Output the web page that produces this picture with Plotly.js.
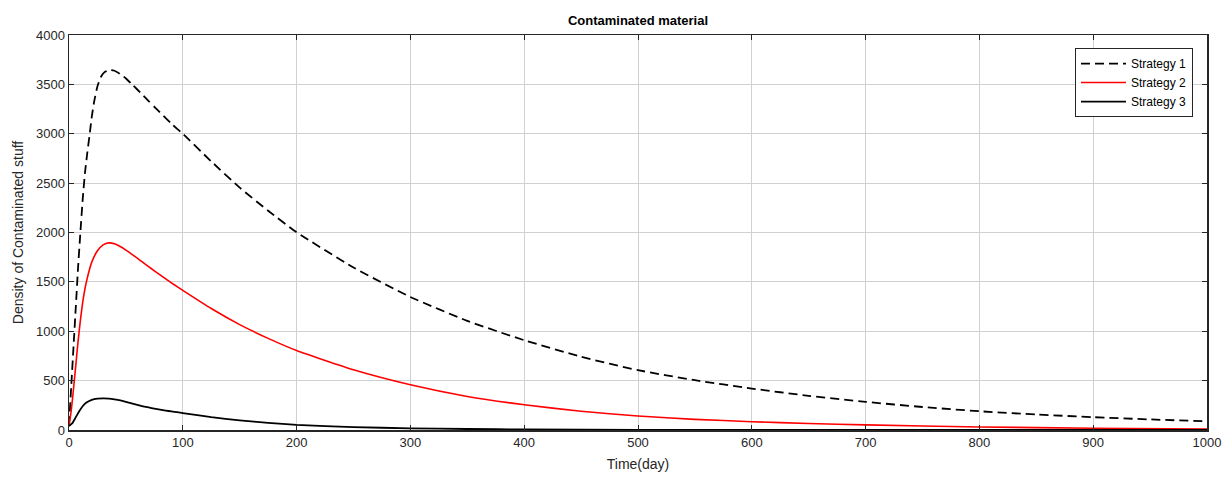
<!DOCTYPE html>
<html>
<head>
<meta charset="utf-8">
<script src="https://cdn.plot.ly/plotly-3.0.1.min.js"></script>
<style>html,body{margin:0;padding:0;background:#fff;}#chart{width:1230px;height:479px;}</style>
</head>
<body>
<div id="chart"></div>
<script>
// Data
const seriesNames = ["Strategy 1", "Strategy 2", "Strategy 3"];

const t1 = [0, 2, 4, 6, 8, 10, 12, 14, 16, 18, 20, 22, 25, 28, 31, 34, 37, 40, 45, 50, 55, 60, 65, 70, 75, 80, 85, 90, 95, 100, 125, 150, 175, 200, 250, 300, 350, 400, 450, 500, 550, 600, 650, 700, 750, 800, 850, 900, 950, 1000];
const s1 = [45, 450, 850, 1250, 1650, 2000, 2330, 2600, 2800, 2980, 3170, 3320, 3480, 3575, 3622, 3641, 3645, 3638, 3605, 3560, 3505, 3448, 3390, 3330, 3272, 3215, 3158, 3102, 3050, 3000, 2720, 2455, 2220, 2003, 1645, 1347, 1105, 909, 742, 606, 504, 420, 346, 285, 233, 190, 157, 130, 107, 88];

const t2 = [0, 2, 4, 6, 8, 10, 12, 14, 16, 18, 20, 25, 30, 35, 40, 45, 50, 55, 60, 65, 70, 75, 80, 85, 90, 95, 100, 125, 150, 175, 200, 250, 300, 350, 400, 450, 500, 550, 600, 650, 700, 800, 900, 1000];
const s2 = [40, 200, 420, 660, 900, 1110, 1290, 1430, 1535, 1625, 1700, 1815, 1875, 1895, 1885, 1858, 1822, 1782, 1740, 1697, 1654, 1612, 1571, 1530, 1490, 1452, 1414, 1230, 1067, 928, 805, 610, 458, 340, 255, 190, 142, 108, 84, 66, 52, 31, 18, 10];

const t3 = [0, 3, 6, 9, 12, 15, 20, 25, 30, 35, 40, 45, 50, 55, 60, 65, 70, 75, 80, 85, 90, 95, 100, 125, 150, 175, 200, 250, 300, 350, 400, 500, 600, 800, 1000];
const s3 = [40, 70, 130, 190, 240, 275, 305, 317, 320, 318, 310, 299, 285, 270, 254, 240, 228, 217, 207, 197, 188, 180, 172, 130, 98, 72, 52, 30, 17, 10, 6, 2, 1, 0.3, 0.1];

const xTicks = [0, 100, 200, 300, 400, 500, 600, 700, 800, 900, 1000];
const yTicks = [0, 500, 1000, 1500, 2000, 2500, 3000, 3500, 4000];

const FONT = "Liberation Sans, Arial, Helvetica, sans-serif";

const traces = [
  {x: t1, y: s1, name: seriesNames[0], type: "scatter", mode: "lines", line: {color: "#000000", width: 1.8, dash: "9px,5px", shape: "spline", smoothing: 0.5}},
  {x: t2, y: s2, name: seriesNames[1], type: "scatter", mode: "lines", line: {color: "#ff0000", width: 1.6, shape: "spline", smoothing: 0.5}},
  {x: t3, y: s3, name: seriesNames[2], type: "scatter", mode: "lines", line: {color: "#000000", width: 1.8, shape: "spline", smoothing: 0.5}}
];

const axisCommon = {
  showgrid: true, gridcolor: "#d0d0d0", gridwidth: 1,
  showline: true, linecolor: "#262626", linewidth: 1.5, mirror: "allticks",
  ticks: "inside", ticklen: 5, tickwidth: 1, tickcolor: "#262626",
  zeroline: false,
  tickfont: {family: FONT, size: 13, color: "#262626"}
};

const layout = {
  width: 1230, height: 479,
  margin: {l: 69, r: 23, t: 35, b: 49},
  paper_bgcolor: "#ffffff", plot_bgcolor: "#ffffff",
  font: {family: FONT, color: "#262626"},
  title: {text: "<b>Contaminated material</b>", font: {family: FONT, size: 13, color: "#000"}, x: 0.5, xref: "paper", xanchor: "center", y: 0.958, yanchor: "middle"},
  xaxis: Object.assign({}, axisCommon, {
    range: [0, 1000], tickvals: xTicks, ticktext: xTicks.map(String),
    title: {text: "Time(day)", font: {family: FONT, size: 14, color: "#262626"}, standoff: 10}
  }),
  yaxis: Object.assign({}, axisCommon, {
    range: [0, 4000], tickvals: yTicks, ticktext: yTicks.map(String),
    title: {text: "Density of Contaminated stuff", font: {family: FONT, size: 14, color: "#262626"}, standoff: 9}
  }),
  showlegend: true,
  legend: {
    x: 0.9877, xanchor: "right", y: 0.967, yanchor: "top",
    bgcolor: "#ffffff", bordercolor: "#262626", borderwidth: 1,
    font: {family: FONT, size: 12, color: "#000"},
    itemwidth: 45,
    tracegroupgap: 0
  }
};

Plotly.newPlot("chart", traces, layout, {displayModeBar: false, staticPlot: true});
</script>
</body>
</html>
